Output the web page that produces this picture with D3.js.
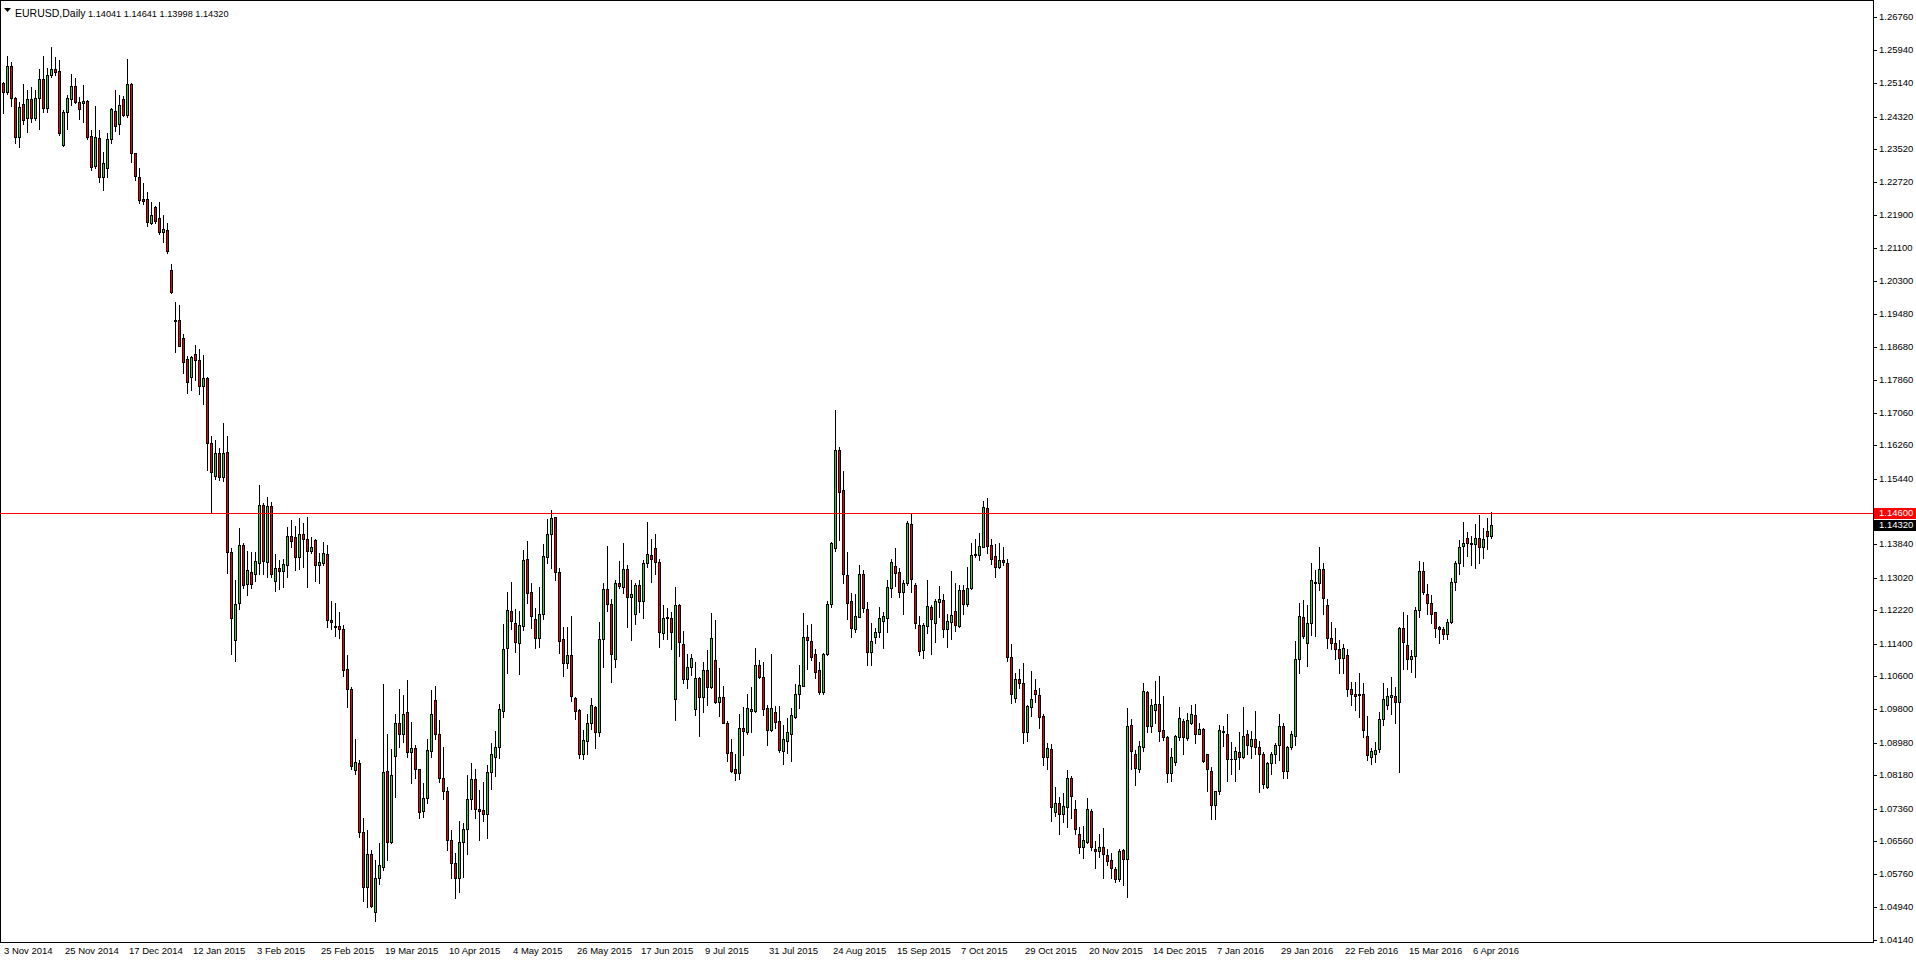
<!DOCTYPE html>
<html><head><meta charset="utf-8">
<script src="https://cdn.jsdelivr.net/npm/d3@7/dist/d3.min.js"></script>
<style>html,body{margin:0;padding:0;background:#fff;overflow:hidden}</style>
</head><body>
<svg id="chart" width="1916" height="964"></svg>
<script>
const symbolTitle = "EURUSD,Daily";
const xLabels = ["3 Nov 2014","25 Nov 2014","17 Dec 2014","12 Jan 2015","3 Feb 2015","25 Feb 2015","19 Mar 2015","10 Apr 2015","4 May 2015","26 May 2015","17 Jun 2015","9 Jul 2015","31 Jul 2015","24 Aug 2015","15 Sep 2015","7 Oct 2015","29 Oct 2015","20 Nov 2015","14 Dec 2015","7 Jan 2016","29 Jan 2016","22 Feb 2016","15 Mar 2016","6 Apr 2016"];
const xLabelEvery = 16;
const yTicks = [1.26760,1.25940,1.25140,1.24320,1.23520,1.22720,1.21900,1.21100,1.20300,1.19480,1.18680,1.17860,1.17060,1.16260,1.15440,1.13840,1.13020,1.12220,1.11400,1.10600,1.09800,1.08980,1.08180,1.07360,1.06560,1.05760,1.04940,1.04140];
const levelPrice = 1.14600;

const open = [1.2514,1.2491,1.2556,1.2477,1.2381,1.2464,1.2428,1.2474,1.2429,1.2477,1.2523,1.2452,1.2534,1.2548,1.2544,1.2362,1.2442,1.2474,1.2507,1.2468,1.2465,1.2470,1.2384,1.2312,1.2379,1.2285,1.2307,1.2376,1.2446,1.2413,1.2474,1.2437,1.2512,1.2342,1.2285,1.2230,1.2229,1.2172,1.2210,1.2183,1.2150,1.2154,1.2056,1.1933,1.1933,1.1889,1.1838,1.1793,1.1850,1.1835,1.1772,1.1791,1.1631,1.1552,1.1608,1.1548,1.1609,1.1364,1.1149,1.1239,1.1382,1.1286,1.1316,1.1312,1.1338,1.1480,1.1341,1.1477,1.1294,1.1325,1.1319,1.1334,1.1404,1.1401,1.1353,1.1410,1.1396,1.1368,1.1394,1.1334,1.1338,1.1360,1.1198,1.1183,1.1183,1.1175,1.1077,1.1028,1.0830,1.0849,1.0678,1.0544,1.0625,1.0482,1.0565,1.0594,1.0829,1.0655,1.0866,1.0945,1.0918,1.0972,1.0874,1.0884,1.0832,1.0731,1.0761,1.0878,1.1002,1.0920,1.0812,1.0780,1.0658,1.0602,1.0565,1.0654,1.0685,1.0759,1.0808,1.0736,1.0732,1.0724,1.0825,1.0862,1.0888,1.0976,1.1129,1.1220,1.1192,1.1143,1.1184,1.1348,1.1266,1.1200,1.1153,1.1212,1.1353,1.1410,1.1450,1.1315,1.1151,1.1092,1.1112,1.1006,1.0978,1.0871,1.0902,1.0947,1.0984,1.0924,1.1151,1.1274,1.1237,1.1102,1.1290,1.1280,1.1322,1.1255,1.1214,1.1284,1.1245,1.1337,1.1357,1.1374,1.1340,1.1166,1.1205,1.1202,1.1004,1.1235,1.1139,1.1053,1.1084,1.0979,1.1057,1.1010,1.1076,1.1035,1.1100,1.0998,1.1009,1.0947,1.0874,1.0832,1.0824,1.0933,1.0923,1.0976,1.0976,1.1088,1.1059,1.0982,1.0929,1.0972,1.0951,1.0878,1.0902,1.0920,1.0961,1.1016,1.1037,1.1156,1.1147,1.1114,1.1076,1.1023,1.1116,1.1237,1.1374,1.1616,1.1517,1.1308,1.1245,1.1176,1.1206,1.1312,1.1224,1.1120,1.1157,1.1168,1.1196,1.1202,1.1276,1.1330,1.1315,1.1267,1.1288,1.1433,1.1284,1.1187,1.1125,1.1183,1.1229,1.1190,1.1243,1.1247,1.1175,1.1194,1.1220,1.1184,1.1272,1.1237,1.1276,1.1357,1.1357,1.1378,1.1472,1.1382,1.1355,1.1327,1.1345,1.1337,1.1107,1.1006,1.1053,1.1045,1.0924,1.0986,1.1027,1.1014,1.0963,1.0862,1.0881,1.0728,1.0749,1.0722,1.0740,1.0810,1.0736,1.0675,1.0641,1.0655,1.0731,1.0637,1.0633,1.0641,1.0622,1.0610,1.0587,1.0563,1.0634,1.0612,1.0941,1.0869,1.0834,1.0888,1.1021,1.0939,1.0978,1.0992,1.0929,1.0912,1.0824,1.0851,1.0912,1.0951,1.0908,1.0945,1.0965,1.0920,1.0931,1.0869,1.0828,1.0746,1.0778,1.0926,1.0919,1.0858,1.0857,1.0874,1.0863,1.0920,1.0889,1.0906,1.0886,1.0871,1.0788,1.0847,1.0869,1.0892,1.0938,1.0829,1.0886,1.0914,1.1102,1.1205,1.1141,1.1190,1.1292,1.1290,1.1322,1.1235,1.1153,1.1141,1.1127,1.1106,1.1112,1.1028,1.1017,1.1014,1.1017,1.0914,1.0862,1.0870,1.0881,1.0955,1.0990,1.1010,1.1012,1.0998,1.1178,1.1137,1.1102,1.1110,1.1223,1.1318,1.1261,1.1241,1.1217,1.1182,1.1175,1.1163,1.1194,1.1292,1.1337,1.1379,1.1400,1.1388,1.1384,1.1398,1.1376,1.1416,1.14041];
const high = [1.2516,1.2580,1.2566,1.2479,1.2468,1.2512,1.2497,1.2505,1.2497,1.2548,1.2580,1.2550,1.2603,1.2579,1.2571,1.2448,1.2485,1.2536,1.2526,1.2481,1.2509,1.2473,1.2399,1.2458,1.2399,1.2346,1.2391,1.2452,1.2497,1.2485,1.2482,1.2573,1.2515,1.2343,1.2307,1.2270,1.2246,1.2222,1.2213,1.2222,1.2191,1.2170,1.2071,1.1977,1.1970,1.1899,1.1845,1.1845,1.1872,1.1862,1.1848,1.1793,1.1649,1.1639,1.1619,1.1680,1.1649,1.1374,1.1296,1.1423,1.1387,1.1367,1.1365,1.1365,1.1529,1.1486,1.1499,1.1487,1.1360,1.1345,1.1347,1.1427,1.1443,1.1428,1.1447,1.1435,1.1450,1.1402,1.1396,1.1362,1.1389,1.1382,1.1245,1.1241,1.1218,1.1186,1.1112,1.1035,1.0906,1.0855,1.0714,1.0683,1.0634,1.0610,1.0651,1.1042,1.0918,1.0882,1.0969,1.1028,1.1014,1.1051,1.0949,1.0892,1.0833,1.0798,1.0906,1.1027,1.1036,1.0954,1.0888,1.0788,1.0683,1.0628,1.0705,1.0700,1.0818,1.0847,1.0834,1.0782,1.0800,1.0844,1.0898,1.0927,1.0992,1.1188,1.1266,1.1292,1.1225,1.1220,1.1370,1.1392,1.1289,1.1227,1.1278,1.1384,1.1446,1.1468,1.1451,1.1325,1.1182,1.1182,1.1208,1.1010,1.0980,1.0928,1.0969,1.1008,1.0987,1.1194,1.1288,1.1380,1.1250,1.1296,1.1343,1.1387,1.1333,1.1296,1.1288,1.1296,1.1345,1.1438,1.1396,1.1410,1.1347,1.1235,1.1227,1.1218,1.1278,1.1237,1.1171,1.1114,1.1116,1.1096,1.1059,1.1096,1.1125,1.1216,1.1198,1.1080,1.1036,1.0951,1.0906,1.0869,1.0969,1.0986,1.1018,1.1035,1.1129,1.1100,1.1096,1.0990,1.1115,1.0988,1.0987,1.0941,1.0957,1.0982,1.1042,1.1088,1.1216,1.1187,1.1188,1.1126,1.1096,1.1118,1.1245,1.1390,1.1714,1.1621,1.1563,1.1364,1.1265,1.1261,1.1333,1.1321,1.1243,1.1190,1.1178,1.1229,1.1218,1.1296,1.1348,1.1374,1.1325,1.1296,1.1441,1.1458,1.1288,1.1208,1.1191,1.1296,1.1235,1.1249,1.1281,1.1262,1.1214,1.1318,1.1289,1.1284,1.1284,1.1329,1.1387,1.1396,1.1412,1.1490,1.1498,1.1396,1.1384,1.1387,1.1376,1.1347,1.1139,1.1069,1.1078,1.1094,1.0990,1.1073,1.1053,1.1031,1.0968,1.0896,1.0894,1.0789,1.0765,1.0775,1.0830,1.0816,1.0757,1.0690,1.0693,1.0761,1.0736,1.0656,1.0674,1.0688,1.0638,1.0626,1.0593,1.0637,1.0636,1.0982,1.0955,1.0880,1.0902,1.1044,1.1024,1.1004,1.1049,1.1062,1.1012,1.0914,1.0884,1.0916,1.0986,1.0955,1.0971,1.0991,1.0992,1.0945,1.0933,1.0871,1.0837,1.0780,1.0941,1.0938,1.0969,1.0900,1.0886,1.0923,1.0984,1.0929,1.0926,1.0976,1.0901,1.0875,1.0851,1.0874,1.0897,1.0968,1.0946,1.0889,1.0927,1.1147,1.1239,1.1247,1.1235,1.1338,1.1321,1.1378,1.1338,1.1250,1.1194,1.1179,1.1149,1.1139,1.1126,1.1047,1.1047,1.1068,1.1043,1.0963,1.0884,1.0899,1.0973,1.1043,1.1031,1.1058,1.1033,1.1180,1.1218,1.1210,1.1125,1.1231,1.1343,1.1340,1.1286,1.1259,1.1218,1.1183,1.1182,1.1200,1.1300,1.1343,1.1394,1.1438,1.1415,1.1404,1.1433,1.1455,1.1423,1.1447,1.14641];
const low = [1.2441,1.2487,1.2459,1.2366,1.2358,1.2415,1.2395,1.2419,1.2424,1.2401,1.2444,1.2444,1.2530,1.2534,1.2387,1.2360,1.2401,1.2460,1.2465,1.2426,1.2419,1.2376,1.2301,1.2305,1.2272,1.2252,1.2285,1.2366,1.2397,1.2389,1.2433,1.2432,1.2321,1.2276,1.2220,1.2218,1.2165,1.2169,1.2170,1.2144,1.2125,1.2098,1.2000,1.1856,1.1869,1.1803,1.1755,1.1762,1.1786,1.1752,1.1727,1.1566,1.1461,1.1545,1.1541,1.1539,1.1314,1.1114,1.1098,1.1224,1.1276,1.1259,1.1277,1.1294,1.1312,1.1312,1.1303,1.1303,1.1270,1.1273,1.1280,1.1303,1.1378,1.1321,1.1322,1.1329,1.1278,1.1363,1.1294,1.1289,1.1334,1.1182,1.1175,1.1159,1.1153,1.1062,1.0986,1.0832,1.0821,1.0667,1.0510,1.0494,1.0495,1.0460,1.0551,1.0586,1.0610,1.0652,1.0765,1.0888,1.0900,1.0862,1.0799,1.0810,1.0712,1.0716,1.0749,1.0863,1.0906,1.0802,1.0760,1.0634,1.0565,1.0518,1.0531,1.0569,1.0625,1.0734,1.0712,1.0658,1.0706,1.0665,1.0783,1.0816,1.0859,1.0960,1.1069,1.1175,1.1120,1.1065,1.1174,1.1239,1.1179,1.1130,1.1132,1.1200,1.1338,1.1325,1.1296,1.1118,1.1062,1.1080,1.1000,1.0955,1.0861,1.0857,1.0871,1.0930,1.0885,1.0914,1.1082,1.1220,1.1047,1.1084,1.1277,1.1265,1.1182,1.1149,1.1188,1.1218,1.1204,1.1329,1.1292,1.1311,1.1132,1.1152,1.1152,1.1127,1.0953,1.1110,1.1043,1.1031,1.1063,1.0965,1.0914,1.0973,1.0990,1.1031,1.0994,1.0964,1.0945,1.0853,1.0825,1.0806,1.0808,1.0867,1.0920,1.0923,1.0973,1.1055,1.0965,1.0892,1.0927,1.0933,1.0875,1.0845,1.0873,1.0853,1.0959,1.0982,1.1036,1.1078,1.1100,1.1057,1.1016,1.1018,1.1112,1.1229,1.1368,1.1394,1.1289,1.1200,1.1156,1.1169,1.1206,1.1217,1.1087,1.1089,1.1143,1.1157,1.1130,1.1169,1.1254,1.1281,1.1254,1.1214,1.1284,1.1267,1.1179,1.1112,1.1104,1.1167,1.1115,1.1145,1.1206,1.1157,1.1132,1.1151,1.1172,1.1182,1.1213,1.1233,1.1273,1.1353,1.1345,1.1376,1.1363,1.1335,1.1304,1.1325,1.1334,1.1098,1.0996,1.0998,1.1031,1.0896,1.0902,1.0964,1.0998,1.0934,1.0844,1.0832,1.0706,1.0718,1.0673,1.0704,1.0690,1.0712,1.0673,1.0628,1.0616,1.0652,1.0634,1.0591,1.0618,1.0565,1.0598,1.0567,1.0557,1.0559,1.0549,1.0520,1.0834,1.0794,1.0826,1.0878,1.0924,1.0924,1.0945,1.0902,1.0904,1.0802,1.0804,1.0844,1.0904,1.0869,1.0904,1.0943,1.0898,1.0918,1.0851,1.0780,1.0710,1.0710,1.0771,1.0889,1.0803,1.0820,1.0804,1.0834,1.0859,1.0870,1.0859,1.0870,1.0776,1.0786,1.0786,1.0821,1.0847,1.0855,1.0810,1.0812,1.0881,1.0892,1.1069,1.1153,1.1086,1.1161,1.1159,1.1272,1.1214,1.1129,1.1127,1.1102,1.1069,1.1069,1.1013,1.0990,1.0978,1.0961,1.0911,1.0855,1.0845,1.0850,1.0874,1.0941,1.0979,1.0969,1.0946,1.0826,1.1077,1.1077,1.1071,1.1058,1.1205,1.1261,1.1214,1.1190,1.1157,1.1142,1.1151,1.1151,1.1190,1.1272,1.1311,1.1330,1.1355,1.1333,1.1326,1.1337,1.1349,1.1372,1.13998];
const close = [1.2491,1.2556,1.2477,1.2381,1.2455,1.2424,1.2474,1.2429,1.2477,1.2523,1.2452,1.2534,1.2548,1.2542,1.2391,1.2444,1.2477,1.2507,1.2468,1.2451,1.2470,1.2383,1.2309,1.2381,1.2285,1.2317,1.2376,1.2450,1.2410,1.2460,1.2437,1.2512,1.2342,1.2287,1.2227,1.2225,1.2173,1.2191,1.2176,1.2150,1.2156,1.2103,1.2001,1.1932,1.1870,1.1830,1.1782,1.1842,1.1835,1.1772,1.1791,1.1631,1.1560,1.1607,1.1548,1.1608,1.1364,1.1202,1.1237,1.1382,1.1284,1.1321,1.1286,1.1343,1.1480,1.1343,1.1477,1.1310,1.1325,1.1319,1.1335,1.1404,1.1392,1.1353,1.1410,1.1396,1.1368,1.1378,1.1334,1.1340,1.1362,1.1198,1.1194,1.1182,1.1175,1.1076,1.1028,1.0840,1.0851,1.0678,1.0543,1.0624,1.0497,1.0565,1.0598,1.0826,1.0655,1.0818,1.0945,1.0918,1.0969,1.0874,1.0884,1.0832,1.0728,1.0761,1.0880,1.0967,1.0920,1.0812,1.0778,1.0658,1.0602,1.0565,1.0654,1.0685,1.0759,1.0808,1.0736,1.0731,1.0724,1.0825,1.0870,1.0886,1.0979,1.1126,1.1223,1.1196,1.1145,1.1186,1.1345,1.1265,1.1209,1.1153,1.1213,1.1355,1.1410,1.1447,1.1315,1.1147,1.1092,1.1112,1.1013,1.0976,1.0871,1.0904,1.0947,1.0990,1.0924,1.1151,1.1274,1.1237,1.1116,1.1290,1.1282,1.1322,1.1255,1.1261,1.1284,1.1245,1.1337,1.1360,1.1348,1.1340,1.1168,1.1202,1.1204,1.1169,1.1235,1.1145,1.1053,1.1082,1.1105,1.1055,1.1010,1.1076,1.1035,1.1153,1.0998,1.1009,1.0946,1.0873,1.0829,1.0824,1.0933,1.0927,1.0982,1.0979,1.1088,1.1059,1.0980,1.0929,1.0982,1.0949,1.0880,1.0906,1.0923,1.0965,1.1016,1.1039,1.1156,1.1149,1.1108,1.1071,1.1023,1.1116,1.1237,1.1387,1.1615,1.1512,1.1312,1.1239,1.1179,1.1209,1.1312,1.1227,1.1120,1.1147,1.1168,1.1202,1.1208,1.1278,1.1340,1.1314,1.1267,1.1288,1.1435,1.1298,1.1190,1.1123,1.1186,1.1232,1.1200,1.1245,1.1249,1.1175,1.1196,1.1210,1.1187,1.1272,1.1237,1.1276,1.1357,1.1360,1.1379,1.1474,1.1380,1.1347,1.1327,1.1345,1.1340,1.1108,1.1016,1.1053,1.1044,1.0924,1.0987,1.1004,1.1016,1.0961,1.0863,1.0885,1.0739,1.0749,1.0722,1.0742,1.0812,1.0767,1.0685,1.0642,1.0659,1.0734,1.0642,1.0633,1.0641,1.0624,1.0608,1.0591,1.0563,1.0632,1.0612,1.0938,1.0878,1.0836,1.0890,1.1024,1.0939,1.0990,1.0992,1.0927,1.0911,1.0824,1.0862,1.0914,1.0957,1.0911,1.0953,1.0968,1.0918,1.0930,1.0853,1.0832,1.0746,1.0778,1.0929,1.0923,1.0857,1.0857,1.0877,1.0863,1.0914,1.0893,1.0906,1.0888,1.0871,1.0796,1.0847,1.0869,1.0892,1.0938,1.0829,1.0886,1.0918,1.1102,1.1208,1.1159,1.1192,1.1296,1.1288,1.1322,1.1251,1.1153,1.1143,1.1126,1.1106,1.1129,1.1028,1.1018,1.1012,1.1017,1.0929,1.0867,1.0877,1.0880,1.0955,1.1004,1.1013,1.1014,1.0998,1.1178,1.1145,1.1102,1.1110,1.1223,1.1318,1.1267,1.1241,1.1214,1.1179,1.1175,1.1163,1.1194,1.1292,1.1337,1.1378,1.1386,1.1386,1.1384,1.1398,1.1376,1.1396,1.1405,1.14320];

const FONT = "'Liberation Sans', Arial, sans-serif";
const svg = d3.select("#chart");
svg.append("rect").attr("width",1916).attr("height",964).attr("fill","#fff");

const plotR = 1873, plotB = 942;
const n = close.length;
const y = d3.scaleLinear().domain([1.04140, 1.26760]).range([940, 17]);
const x = d3.scaleLinear().domain([0, n - 1]).range([3, 3 + 4 * (n - 1)]);

const g = svg.append("g").attr("shape-rendering","crispEdges");
const bars = d3.range(n).map(i => ({i, o: open[i], h: Math.max(high[i], open[i], close[i]), l: Math.min(low[i], open[i], close[i]), c: close[i]}));

g.selectAll("rect.wick").data(bars).join("rect").attr("class","wick")
  .attr("x", d => Math.round(x(d.i))).attr("width", 1)
  .attr("y", d => Math.round(y(d.h)))
  .attr("height", d => Math.max(1, Math.round(y(d.l)) - Math.round(y(d.h)) + 1))
  .attr("fill", "#000");
const bodyTop = d => Math.round(y(Math.max(d.o, d.c)));
const bodyBot = d => Math.round(y(Math.min(d.o, d.c)));
g.selectAll("rect.body").data(bars).join("rect").attr("class","body")
  .attr("x", d => Math.round(x(d.i)) - 1).attr("width", 3)
  .attr("y", bodyTop).attr("height", d => bodyBot(d) - bodyTop(d) + 1)
  .attr("fill", "#000");
g.selectAll("rect.fill").data(bars.filter(d => bodyBot(d) - bodyTop(d) >= 2)).join("rect").attr("class","fill")
  .attr("x", d => Math.round(x(d.i))).attr("width", 1)
  .attr("y", d => bodyTop(d) + 1).attr("height", d => bodyBot(d) - bodyTop(d) - 1)
  .attr("fill", d => d.c >= d.o ? "#32CD32" : "#F00000");

g.append("rect").attr("x",0.5).attr("y",0.5).attr("width",plotR).attr("height",plotB)
  .attr("fill","none").attr("stroke","#000").attr("stroke-width",1);

const ly = Math.round(y(levelPrice)) + 0.5;
g.append("line").attr("x1",0).attr("x2",plotR).attr("y1",ly).attr("y2",ly)
  .attr("stroke","#FF0000").attr("stroke-width",1);

const ya = svg.append("g");
yTicks.forEach(v => {
  const yy = Math.round(y(v));
  ya.append("line").attr("x1",plotR).attr("x2",plotR+4).attr("y1",yy+0.5).attr("y2",yy+0.5).attr("stroke","#000").attr("shape-rendering","crispEdges");
  ya.append("text").attr("x",1879).attr("y",yy).attr("dy","0.35em").attr("font-family",FONT).attr("font-size",9.5).attr("fill","#000").text(v.toFixed(5));
});
const lastC = close[n-1];
[[levelPrice,"#FF0000"],[lastC,"#000"]].forEach(([v,col]) => {
  const yy = Math.round(y(v));
  ya.append("rect").attr("x",plotR+1).attr("y",yy-5).attr("width",1916-plotR-1).attr("height",11).attr("fill",col).attr("shape-rendering","crispEdges");
  ya.append("text").attr("x",1879).attr("y",yy).attr("dy","0.35em").attr("font-family",FONT).attr("font-size",9.5).attr("fill","#fff").text(v.toFixed(5));
});

const xa = svg.append("g");
xLabels.forEach((s,k) => {
  const xx = Math.round(x(k * xLabelEvery));
  xa.append("text").attr("x", Math.max(4, xx - 2)).attr("y", 951).attr("dy","0.35em").attr("font-family",FONT).attr("font-size",9.5).attr("fill","#000").text(s);
});

svg.append("path").attr("d","M4,8 L11,8 L7.5,12 Z").attr("fill","#000");
const hdr = svg.append("text").attr("x",15).attr("y",11).attr("dy","0.35em").attr("font-family",FONT).attr("fill","#000");
hdr.append("tspan").attr("font-size",10.5).text(symbolTitle);
hdr.append("tspan").attr("x",88).attr("font-size",9.2)
  .text([open[n-1],high[n-1],low[n-1],close[n-1]].map(v=>v.toFixed(5)).join(" "));
</script>
</body></html>
